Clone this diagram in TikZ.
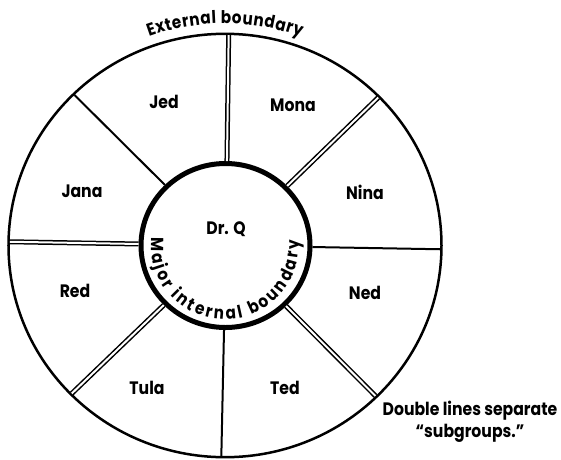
\documentclass[tikz,border=0pt]{standalone}
\usepackage{fontspec}
\setmainfont{Poppins}[FakeStretch=0.87]
\usetikzlibrary{decorations.text,shapes.geometric}
\newcommand\arcfont{\fontsize{17.5}{20}\selectfont\bfseries}
\begin{document}
\begin{tikzpicture}[
  x=1pt, y=1pt,
  font=\fontsize{18}{22}\selectfont\bfseries,
  member/.style={inner sep=0pt, text height=12.5pt, text depth=0pt},
  bound/.style={draw, ellipse, inner sep=0pt, outer sep=0pt, line width=#1},
  single/.style={line width=2pt, shorten <=2.5pt, shorten >=1.25pt},
  dbl/.style={double, double distance=2pt, line width=1.5pt, shorten <=2.5pt, shorten >=1.25pt}
]
\useasboundingbox (-225,-213.5) rectangle (336,245.5);
\node[bound=5pt, minimum width=169pt, minimum height=164pt] (core) at (0.5,0) {};
\node[bound=2.5pt, minimum width=433pt, minimum height=423.4pt] (rim) at (0,0) {};
\draw[dbl] (core.89) -- (rim.89);
\draw[dbl] (core.44) -- (rim.44);
\draw[single] (core.359) -- (rim.359);
\draw[dbl] (core.315) -- (rim.315);
\draw[single] (core.269) -- (rim.269);
\draw[dbl] (core.224) -- (rim.224);
\draw[dbl] (core.179) -- (rim.179);
\draw[single] (core.135) -- (rim.135);
\node[member] (jed) at (-61,143.5) {Jed};
\node[member] (mona) at (68,140.5) {Mona};
\node[member] (jana) at (-143,54.5) {Jana};
\node[member] (nina) at (140,52.5) {Nina};
\node[member] (drq) at (1,17.5) {Dr. Q};
\node[member] (red) at (-150,-45.5) {Red};
\node[member] (ned) at (140,-47.5) {Ned};
\node[member] (tula) at (-78,-142.5) {Tula};
\node[member] (ted) at (60,-142.5) {Ted};
\path[decorate, decoration={text along path, text align=fit to path,
  text={|\arcfont|External boundary}}] (110:222) arc[start angle=110, end angle=70, radius=222];
\path[decorate, decoration={text along path, text align=fit to path,
  text={|\arcfont|Major internal boundary}}] (174:74) arc[start angle=174, end angle=364, radius=74];
\node[align=center, inner sep=0pt] (note) at (245,-176) {Double lines separate\\“subgroups.”};
\end{tikzpicture}
\end{document}
